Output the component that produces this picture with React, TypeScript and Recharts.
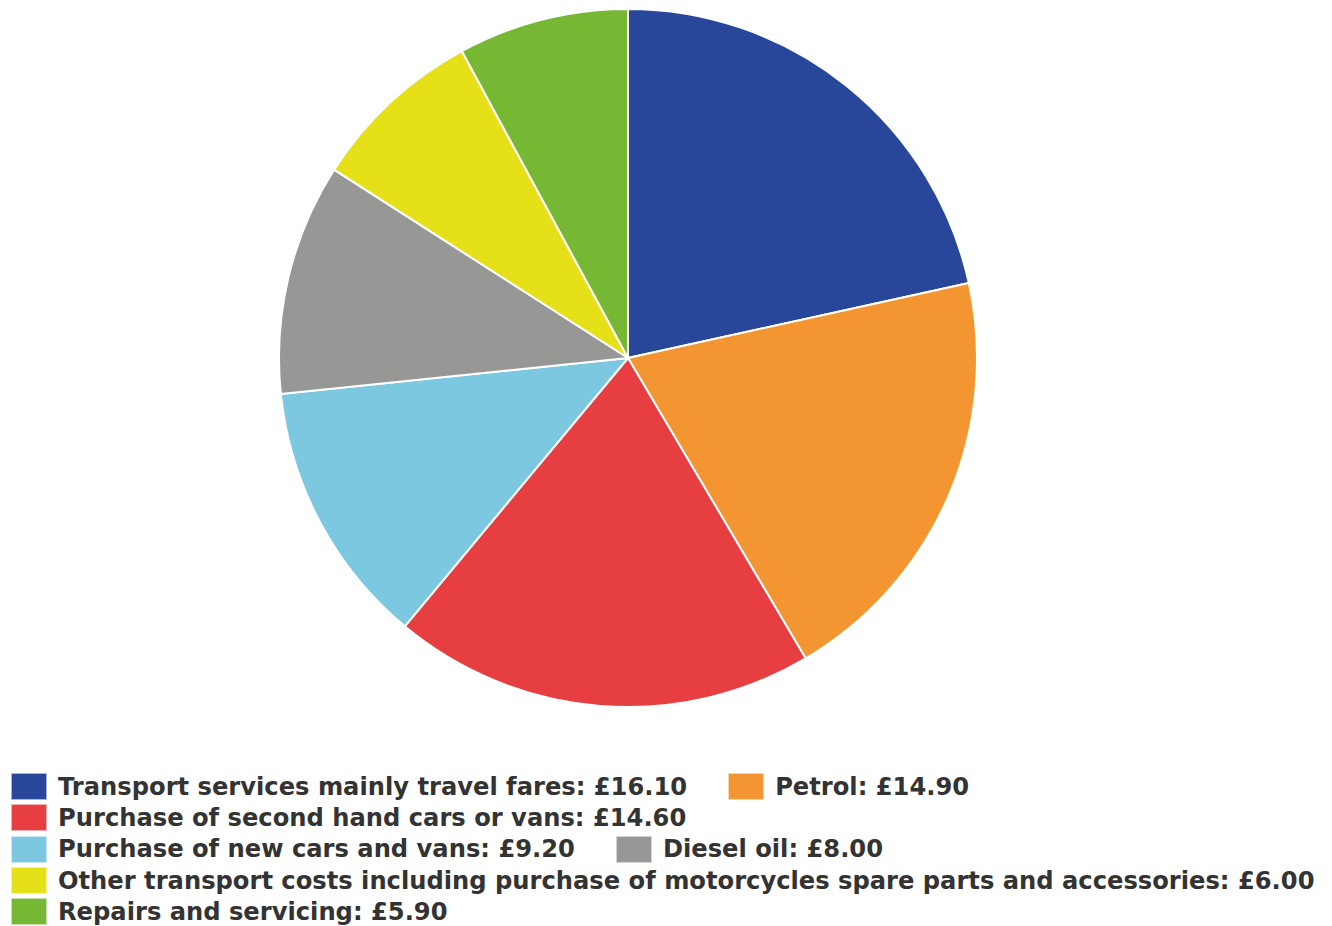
import React from "react";
import { PieChart, Pie, Cell, Legend } from "recharts";

const categories = [
  "Transport services mainly travel fares",
  "Petrol",
  "Purchase of second hand cars or vans",
  "Purchase of new cars and vans",
  "Diesel oil",
  "Other transport costs including purchase of motorcycles spare parts and accessories",
  "Repairs and servicing",
];
const spend = [16.1, 14.9, 14.6, 9.2, 8.0, 6.0, 5.9];
const colors = ["#28479a", "#f39530", "#e63e41", "#7cc8e1", "#979796", "#e6e018", "#76b733"];
// which legend items share a row
const legendRows = [[0, 1], [2], [3, 4], [5], [6]];

const data = categories.map((name, i) => ({ name, value: spend[i] }));

const LegendBox = () => (
  <div style={{ fontFamily: "'DejaVu Sans', sans-serif", fontWeight: "bold", fontSize: 24.2, color: "#333" }}>
    {legendRows.map((row, r) => (
      <div key={r} style={{ display: "flex", alignItems: "center", height: 31.3 }}>
        {row.map((i, k) => (
          <div key={i} style={{ display: "flex", alignItems: "center", marginLeft: k > 0 ? 41 : 0 }}>
            <span
              style={{
                display: "inline-block",
                width: 34,
                height: 25,
                background: colors[i],
                border: "1px solid rgba(255,255,255,0.6)",
                marginRight: 11,
              }}
            />
            <span style={{ whiteSpace: "nowrap" }}>{`${categories[i]}: £${spend[i].toFixed(2)}`}</span>
          </div>
        ))}
      </div>
    ))}
  </div>
);

export default function App() {
  return (
    <div style={{ position: "absolute", left: 0, top: 0, width: 1332, height: 926, background: "#fff" }}>
      <PieChart width={1332} height={926} margin={{ top: 0, right: 0, bottom: 0, left: 0 }}>
        <Pie
          data={data}
          dataKey="value"
          nameKey="name"
          cx={628}
          cy={358}
          outerRadius={349}
          startAngle={90}
          endAngle={-270}
          stroke="#ffffff"
          strokeWidth={2}
          isAnimationActive={false}
        >
          {data.map((d, i) => (
            <Cell key={d.name} fill={colors[i]} />
          ))}
        </Pie>
        <Legend
          content={<LegendBox />}
          wrapperStyle={{ position: "absolute", left: 11, top: 771, width: 1320 }}
        />
      </PieChart>
    </div>
  );
}
